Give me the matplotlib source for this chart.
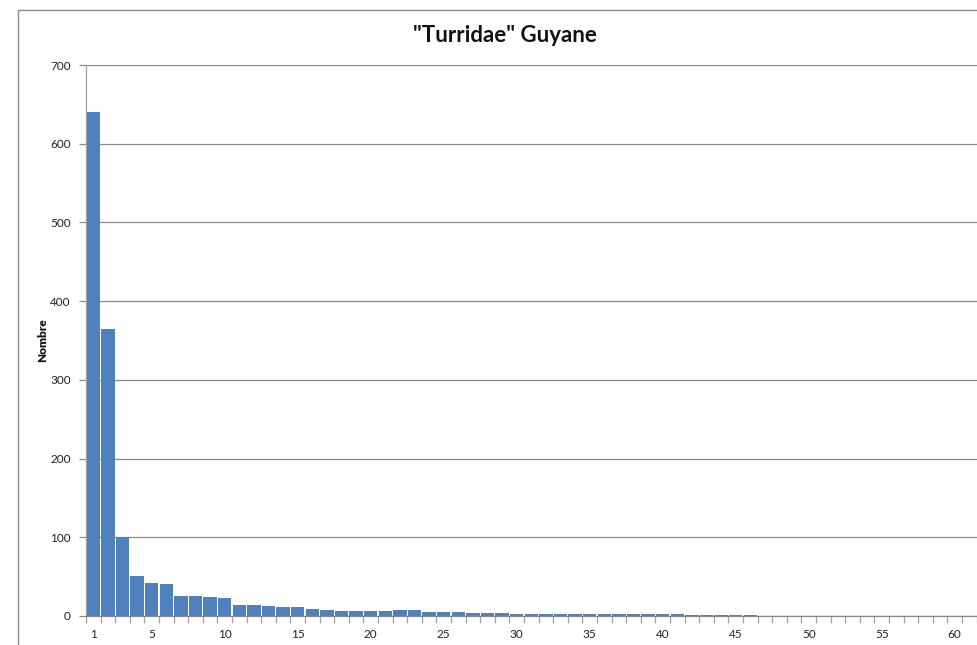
import matplotlib
matplotlib.use("Agg")
import matplotlib.pyplot as plt
from matplotlib.patches import Rectangle
from matplotlib.ticker import FixedLocator

plt.rcParams['font.family'] = ['Lato', 'DejaVu Sans']

title = '"Turridae" Guyane'
ylabel = "Nombre"

counts = [640, 365, 100, 51, 42, 41, 26, 26, 24, 23,
          14, 14, 13, 11, 11, 9, 8, 6, 6, 6,
          6, 7, 7, 5, 5, 5, 4, 4, 4, 3,
          3, 3, 3, 3, 3, 3, 3, 3, 3, 3,
          3, 1, 1, 1, 1, 1, 0, 0, 0, 0,
          0, 0, 0, 0, 0, 0, 0, 0, 0, 0,
          0, 0]
categories = list(range(1, len(counts) + 1))
xtick_labels = [1, 5, 10, 15, 20, 25, 30, 35, 40, 45, 50, 55, 60]
yticks = [0, 100, 200, 300, 400, 500, 600, 700]

W, H = 977, 645
fig = plt.figure(figsize=(W / 100, H / 100), dpi=100)

# outer chart frame
fig.patches.append(Rectangle((17.5 / W, -0.1), 1.1, (H - 9.5) / H + 0.1,
                             transform=fig.transFigure, fill=False,
                             edgecolor="#8c8c8c", linewidth=1.0))

cat_px = 14.6
left_px, bottom_px, top_px = 86, 616, 65
ax = fig.add_axes([left_px / W, (H - bottom_px) / H,
                   cat_px * len(categories) / W, (bottom_px - top_px) / H])

ax.bar(categories, counts, width=0.93, color="#4f81bd",
       linewidth=0, zorder=3)

ax.set_xlim(0.5, len(categories) + 0.5)
ax.set_ylim(0, 700)
ax.set_yticks(yticks)
ax.yaxis.grid(True, color="#8a8a8a", linewidth=0.9, zorder=0)

ax.xaxis.set_major_locator(FixedLocator(xtick_labels))
ax.set_xticklabels([str(v) for v in xtick_labels])
ax.xaxis.set_minor_locator(FixedLocator([c + 0.5 for c in [0] + categories]))
ax.tick_params(axis="x", which="major", length=0, pad=9,
               labelsize=8.5, labelcolor="#222222")
ax.tick_params(axis="x", which="minor", length=5, width=0.9,
               color="#a0a0a0", direction="out")
ax.tick_params(axis="y", length=5, width=0.9, color="#8a8a8a",
               labelsize=8.5, labelcolor="#222222", pad=6)

for s in ["top", "right"]:
    ax.spines[s].set_visible(False)
ax.spines["left"].set_color("#a0a0a0")
ax.spines["bottom"].set_color("#8a8a8a")
ax.spines["left"].set_linewidth(0.9)
ax.spines["bottom"].set_linewidth(0.9)
ax.spines["bottom"].set_zorder(4)

fig.text(505 / W, 1 - 35 / H, title, ha="center", va="center",
         fontsize=16, fontweight="bold", color="#111111")
fig.text(43 / W, 1 - 340 / H, ylabel, ha="center", va="center",
         rotation=90, fontsize=8.5, fontweight="heavy", color="#111111")

fig.savefig("out.png", dpi=100)
